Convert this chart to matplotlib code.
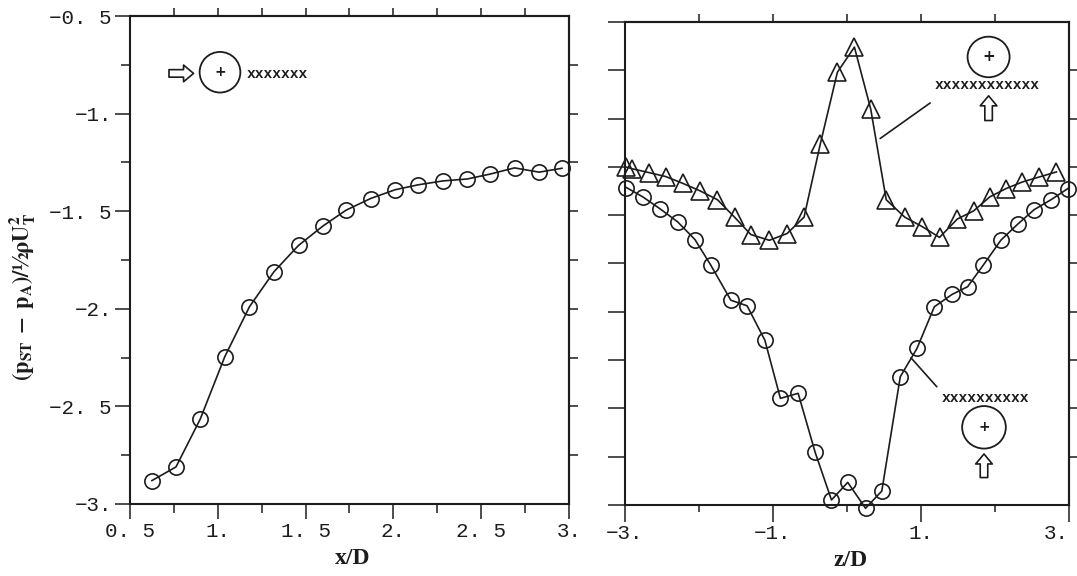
import numpy as np
import matplotlib
matplotlib.use("Agg")
import matplotlib.pyplot as plt
from matplotlib.patches import Ellipse
from matplotlib.ticker import FixedLocator, MultipleLocator

# ---- data ----
# left: traverse along x/D (circles)
xd = [0.625, 0.762, 0.90, 1.04, 1.18, 1.32, 1.46, 1.60, 1.73, 1.87,
      2.01, 2.14, 2.28, 2.42, 2.55, 2.69, 2.83, 2.96]
cp_x = [-2.88, -2.81, -2.565, -2.245, -1.99, -1.81, -1.675, -1.575, -1.495, -1.435,
        -1.39, -1.365, -1.345, -1.335, -1.31, -1.278, -1.30, -1.28]

# right: traverse along z/D, triangles (wake above)
z_tri = [-2.99, -2.90, -2.67, -2.45, -2.22, -1.98, -1.75, -1.52, -1.30, -1.05,
         -0.81, -0.58, -0.36, -0.13, 0.10, 0.32, 0.53, 0.78, 1.02, 1.25,
         1.49, 1.71, 1.93, 2.15, 2.37, 2.60, 2.83]
cp_tri = [-1.25, -1.26, -1.28, -1.30, -1.335, -1.375, -1.42, -1.51, -1.60, -1.63,
          -1.595, -1.51, -1.13, -0.76, -0.63, -0.95, -1.42, -1.51, -1.56, -1.615,
          -1.52, -1.478, -1.405, -1.362, -1.328, -1.302, -1.276]

# right: traverse along z/D, circles (wake below)
z_circ = [-2.98, -2.76, -2.53, -2.29, -2.055, -1.84, -1.57, -1.35, -1.11, -0.90,
          -0.66, -0.43, -0.21, 0.01, 0.25, 0.47, 0.72, 0.945, 1.18, 1.42,
          1.63, 1.84, 2.08, 2.305, 2.53, 2.76, 2.985]
cp_circ = [-1.357, -1.405, -1.466, -1.534, -1.626, -1.759, -1.94, -1.969, -2.147, -2.448,
           -2.422, -2.728, -2.974, -2.883, -3.017, -2.928, -2.336, -2.19, -1.974, -1.91,
           -1.87, -1.759, -1.629, -1.547, -1.471, -1.419, -1.362]

xticks_l = [0.5, 1.0, 1.5, 2.0, 2.5, 3.0]
xlabels_l = ['0. 5', '1.', '1. 5', '2.', '2. 5', '3.']
yticks_l = [-3.0, -2.5, -2.0, -1.5, -1.0, -0.5]
ylabels_l = ['\u22123.', '\u22122. 5', '\u22122.', '\u22121. 5', '\u22121.', '\u22120. 5']
xticks_r = [-3, -1, 1, 3]
xlabels_r = ['\u22123.', '\u22121.', '1.', '3.']

ink = '#1c1c1c'
plt.rcParams['font.family'] = ['Liberation Mono', 'DejaVu Sans Mono']
plt.rcParams['mathtext.fontset'] = 'stix'
plt.rcParams['axes.linewidth'] = 1.5
plt.rcParams['axes.edgecolor'] = ink
plt.rcParams['xtick.color'] = ink
plt.rcParams['ytick.color'] = ink

fig = plt.figure(figsize=(10.77, 5.76), dpi=100)
ax1 = fig.add_axes([0.1207, 0.125, 0.4076, 0.8472])
ax2 = fig.add_axes([0.5803, 0.1233, 0.4123, 0.8385])

line_kw = dict(color=ink, lw=1.2, mfc='none', mec=ink, mew=1.2, clip_on=False)
arrow_style = 'simple,head_length=0.6,head_width=1.0,tail_width=0.45'

# ---- left panel ----
ax1.plot(xd, cp_x, 'o-', ms=11, **line_kw)
ax1.set_xlim(0.5, 3.0)
ax1.set_ylim(-3.0, -0.5)
ax1.xaxis.set_major_locator(FixedLocator(xticks_l))
ax1.xaxis.set_minor_locator(MultipleLocator(0.25))
ax1.yaxis.set_major_locator(FixedLocator(yticks_l))
ax1.yaxis.set_minor_locator(MultipleLocator(0.25))
ax1.set_xticklabels(xlabels_l)
ax1.set_yticklabels(ylabels_l)
ax1.tick_params(which='major', direction='out', length=11, width=1.1, labelsize=15, pad=2)
ax1.tick_params(which='minor', direction='out', length=6.5, width=1.1)

top1 = ax1.secondary_xaxis('top')
top1.set_xticks(np.arange(0.75, 2.9, 0.25), labels=[])
top1.tick_params(direction='out', length=6, width=1.1)
right1 = ax1.secondary_yaxis('right')
right1.set_yticks(np.arange(-2.75, -0.6, 0.25), labels=[])
right1.tick_params(direction='out', length=6.5, width=1.1)

# axis titles placed in figure pixels
fig.text(353 / 1077, 1 - 558 / 576, 'x/D', ha='center', va='center',
         family='Liberation Serif', weight='bold', size=17, color=ink)
fig.text(851 / 1077, 1 - 560 / 576, 'z/D', ha='center', va='center',
         family='Liberation Serif', weight='bold', size=17, color=ink)
fig.text(23 / 1077, 1 - 297 / 576, r'$\mathbf{(p_{ST}\;-\;p_{A})/½\rho U_{T}^{2}}$',
         rotation=90, ha='center', va='center', size=16, color=ink)

# sketch: flow arrow, cylinder, wake line
ax1.annotate('', xy=(0.862, -0.794), xytext=(0.722, -0.794),
             arrowprops=dict(arrowstyle=arrow_style, fc='white', ec=ink, lw=1.2,
                             shrinkA=0, shrinkB=0, mutation_scale=12))
ax1.add_patch(Ellipse((1.0125, -0.788), 0.232, 0.208, fill=False, ec=ink, lw=1.3))
ax1.text(1.0125, -0.788, '+', ha='center', va='center', size=10, weight='bold',
         family='DejaVu Sans', color=ink)
ax1.text(1.165, -0.798, 'xxxxxxx', ha='left', va='center', size=10.5, weight='bold', color=ink)

# ---- right panel ----
ax2.plot(z_tri, cp_tri, '^-', ms=13, **line_kw)
ax2.plot(z_circ, cp_circ, 'o-', ms=11, **line_kw)
ax2.set_xlim(-3, 3)
ax2.set_ylim(-3.0, -0.5)
ax2.xaxis.set_major_locator(FixedLocator(xticks_r))
ax2.xaxis.set_minor_locator(FixedLocator([-2, 0, 2]))
ax2.set_xticklabels(xlabels_r)
ax2.get_xticklabels()[-1].set_ha('right')   # keep "3." inside the picture
ax2.yaxis.set_major_locator(MultipleLocator(0.25))
ax2.set_yticklabels([])
ax2.tick_params(axis='x', which='major', direction='out', length=12, width=1.1, labelsize=15, pad=2)
ax2.tick_params(axis='x', which='minor', direction='out', length=5, width=1.1)
ax2.tick_params(axis='y', which='major', direction='out', length=12, width=1.1)

top2 = ax2.secondary_xaxis('top')
top2.set_xticks([-2, -1, 0, 1, 2], labels=[])
top2.tick_params(direction='out', length=6, width=1.1)
right2 = ax2.secondary_yaxis('right')
right2.set_yticks(np.arange(-2.75, -0.6, 0.25), labels=[])
right2.tick_params(direction='out', length=6, width=1.1)

# sketch above: cylinder, wake, flow arrow, leader to triangles
ax2.add_patch(Ellipse((1.913, -0.681), 0.568, 0.21, fill=False, ec=ink, lw=1.3))
ax2.text(1.913, -0.681, '+', ha='center', va='center', size=11, weight='bold',
         family='DejaVu Sans', color=ink)
ax2.text(1.18, -0.828, 'xxxxxxxxxxxx', ha='left', va='center', size=10.5, weight='bold', color=ink)
ax2.annotate('', xy=(1.913, -0.882), xytext=(1.913, -1.010),
             arrowprops=dict(arrowstyle=arrow_style, fc='white', ec=ink, lw=1.2,
                             shrinkA=0, shrinkB=0, mutation_scale=12))
ax2.annotate('', xy=(0.448, -1.103), xytext=(1.124, -0.919),
             arrowprops=dict(arrowstyle='-', color=ink, lw=1.2, shrinkA=0, shrinkB=0))

# sketch below: wake, cylinder, flow arrow, leader to circles
ax2.text(1.275, -2.448, 'xxxxxxxxxx', ha='left', va='center', size=10.5, weight='bold', color=ink)
ax2.add_patch(Ellipse((1.851, -2.598), 0.59, 0.22, fill=False, ec=ink, lw=1.3))
ax2.text(1.851, -2.598, '+', ha='center', va='center', size=10, weight='bold',
         family='DejaVu Sans', color=ink)
ax2.annotate('', xy=(1.851, -2.736), xytext=(1.851, -2.858),
             arrowprops=dict(arrowstyle=arrow_style, fc='white', ec=ink, lw=1.2,
                             shrinkA=0, shrinkB=0, mutation_scale=12))
ax2.annotate('', xy=(0.864, -2.238), xytext=(1.213, -2.388),
             arrowprops=dict(arrowstyle='-', color=ink, lw=1.2, shrinkA=0, shrinkB=0))

fig.savefig('out.png', dpi=100)
